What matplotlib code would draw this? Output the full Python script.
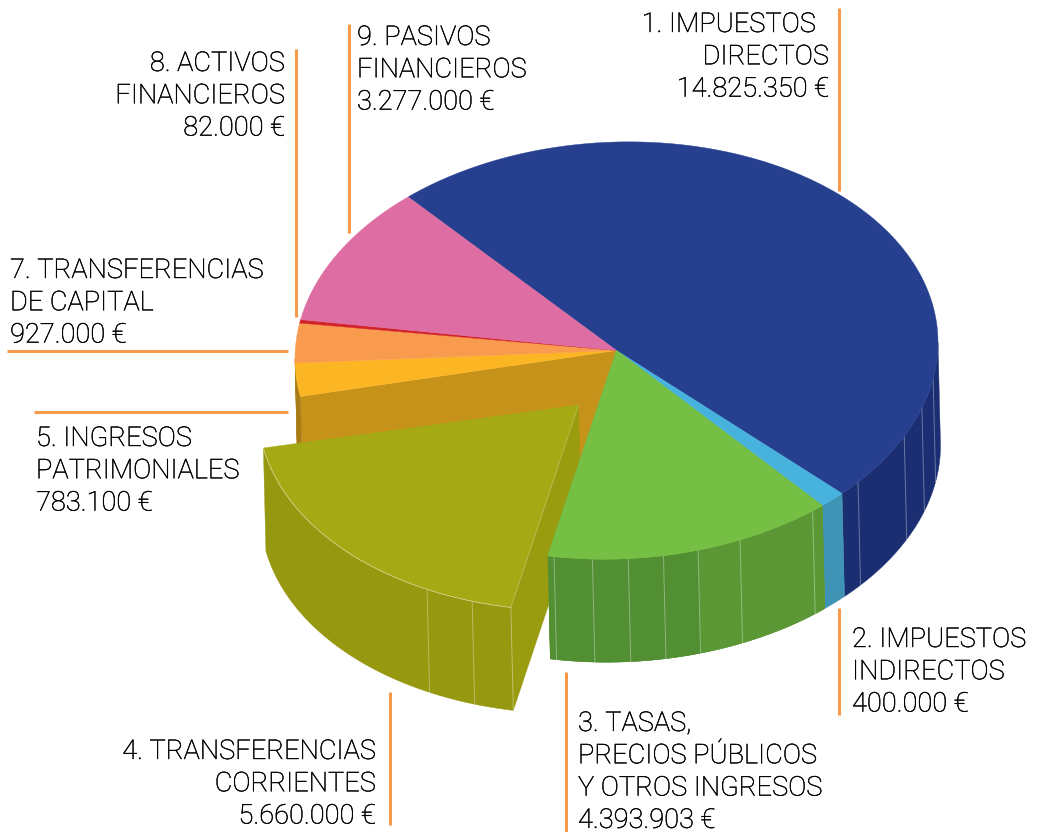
import numpy as np
import matplotlib
matplotlib.use('Agg')
import matplotlib.pyplot as plt
import matplotlib.patheffects as pe

plt.rcParams['font.family'] = ['Roboto', 'DejaVu Sans']
plt.rcParams['font.weight'] = 'light'

values = [14825350, 400000, 4393903, 5660000, 783100, 927000, 82000, 3277000]
top_colors = ['#26408F', '#47B2DC', '#76BF45', '#A5A913', '#FDB623', '#F99B4E', '#D2232A', '#DD6DA2']
wall_colors = ['#1B2E72', '#3F93B5', '#5B9835', '#96980F', '#A97C14', '#A97C14', '#A97C14', '#A97C14']
blue_facets = [-41.3, -26.5, -18.2, -10.0]
green_facets = [-101.2, -94.3, -87.9, -81.6, -75.3, -67.4, -52.4]
olive_facets = [-118.3, -109.5]

labels = [
    (829, 32, 'right', ['1. IMPUESTOS  ', 'DIRECTOS', '14.825.350 €']),
    (852, 647, 'left', ['2. IMPUESTOS', 'INDIRECTOS', '400.000 €']),
    (578, 731, 'left', ['3. TASAS,', 'PRECIOS PÚBLICOS', 'Y OTROS INGRESOS', '4.393.903 €']),
    (376, 759, 'right', ['4. TRANSFERENCIAS', 'CORRIENTES', '5.660.000 €']),
    (36, 446, 'left', ['5. INGRESOS', 'PATRIMONIALES', '783.100 €']),
    (10, 278, 'left', ['7. TRANSFERENCIAS', 'DE CAPITAL', '927.000 €']),
    (285, 71, 'right', ['8. ACTIVOS', 'FINANCIEROS', '82.000 €']),
    (357, 45, 'left', ['9. PASIVOS', 'FINANCIEROS', '3.277.000 €']),
]
leaders = [
    ([839, 839], [8, 191]),
    ([349, 349], [24, 233]),
    ([296, 296], [49, 317]),
    ([7, 288], [351, 351]),
    ([34, 288], [412, 412]),
    ([839, 839], [608, 715]),
    ([566, 566], [672, 832]),
    ([390, 390], [692, 825]),
]

CX, CY, RX, RY = 616.5, 350.5, 321.5, 208.5
TILT = -0.025  # the ellipse leans a little, left side lower
DX, DY = 2.5, 103
START = 130.4
EXPLODE = (-37, 51.5)
EXPLODE_APEX = (-38, 54.5)

fig = plt.figure(figsize=(10.37, 8.32), dpi=100)
ax = fig.add_axes([0, 0, 1, 1])
ax.set_xlim(0, 1037)
ax.set_ylim(832, 0)
ax.axis('off')


def rim(a, off=(0, 0), depth=False):
    a = np.radians(a)
    x = CX + off[0] + RX * np.cos(a)
    y = CY + off[1] - RY * np.sin(a) + TILT * RX * np.cos(a)
    if depth:
        x, y = x + DX, y + DY
    return x, y


def poly(x, y, color, z):
    ax.fill(x, y, color=color, lw=0.3, zorder=z)


def draw_top(a0, a1, color, off=(0, 0), apex=(0, 0), z=5):
    t = np.linspace(a0, a1, 120)
    x, y = rim(t, off)
    poly(np.r_[CX + apex[0], x], np.r_[CY + apex[1], y], color, z)


def draw_wall(a0, a1, color, off=(0, 0), z=2):
    # only the part of the rim that faces the viewer
    lo = max(a0 if a0 < a1 else a1, -180)
    hi = min(a0 if a0 > a1 else a1, 0)
    if hi <= lo:
        return
    t = np.linspace(lo, hi, 80)
    x0, y0 = rim(t, off)
    x1, y1 = rim(t, off, True)
    poly(np.r_[x0, x1[::-1]], np.r_[y0, y1[::-1]], color, z)


def draw_cut(a, color, off=(0, 0), apex=(0, 0), z=1):
    x, y = rim(a, off)
    ox, oy = CX + apex[0], CY + apex[1]
    poly([ox, x, x + DX, ox + DX], [oy, y, y + DY, oy + DY], color, z)


def draw_facet(a, off=(0, 0), z=3):
    x, y = rim(a, off)
    ax.plot([x, x + DX], [y, y + DY], color='white', alpha=0.35, lw=0.7, zorder=z)


sweeps = np.array(values) / sum(values) * 360
edges = START - np.r_[0, np.cumsum(sweeps)]

# the gap left by the pulled out slice
draw_cut(edges[3], '#C7921A')
draw_cut(edges[4], '#C7921A')

for i in range(len(values)):
    a0, a1 = edges[i], edges[i + 1]
    if i == 3:
        continue
    if i == 2:
        split = green_facets[4]
        draw_wall(a0, split, '#5B9835')
        draw_wall(split, a1, '#528E32')
    else:
        draw_wall(a0, a1, wall_colors[i])
    draw_top(a0, a1, top_colors[i])

for a in blue_facets + green_facets:
    draw_facet(a)

# pulled out slice, on top of the gap but under the green top
a0, a1 = edges[3], edges[4]
draw_cut(a0, '#9A9C10', EXPLODE, EXPLODE_APEX, z=3)
draw_wall(a0, a1, wall_colors[3], EXPLODE, z=3)
for a in olive_facets:
    draw_facet(a, EXPLODE, z=3.5)
draw_top(a0, a1, top_colors[3], EXPLODE, EXPLODE_APEX, z=4)
t = np.linspace(a0, a1, 120)
ax.plot(*rim(t, EXPLODE), color='white', alpha=0.5, lw=0.6, zorder=4.5)
xe, ye = rim(a0, EXPLODE)
ax.plot([CX + EXPLODE_APEX[0], xe], [CY + EXPLODE_APEX[1], ye], color='white', alpha=0.25, lw=0.6, zorder=4.5)
ax.plot([xe, xe + DX], [ye, ye + DY], color='white', alpha=0.35, lw=0.7, zorder=4.5)

# green wall and top have to cover the olive cut face
draw_wall(edges[2], green_facets[4], '#5B9835', z=4.6)
draw_wall(green_facets[4], edges[3], '#528E32', z=4.6)
for a in green_facets:
    draw_facet(a, z=4.7)
draw_top(edges[2], edges[3], top_colors[2], z=5)

for fx, fy in leaders:
    ax.plot(fx, fy, color='#F79A4B', lw=2.2, solid_capstyle='butt', zorder=6)

for x, y, ha, lines in labels:
    for n, line in enumerate(lines):
        ax.text(x, y + 32.3 * n, line, ha=ha, va='baseline', fontsize=19.6, color='#000000', zorder=7,
                path_effects=[pe.withStroke(linewidth=0.3, foreground='#000000')])

fig.savefig('out.png', dpi=100)
